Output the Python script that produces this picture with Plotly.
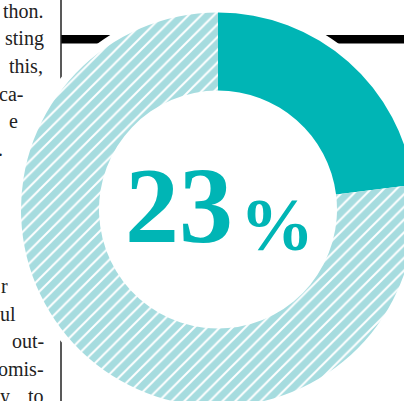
import plotly.graph_objects as go

# Share of the whole shown by the donut
labels = ["Share", "Rest"]
values = [23, 77]
headline_number = "23"
headline_unit = "%"

# Fragments of the neighbouring text column (line index, text, right edge in px)
column_lines = [0, 1, 2, 3, 4, 5, 10, 11, 12, 13, 14, 14]
column_texts = ["thon.", "sting", "this,", "ca-", "e", ".", "r", "ul", "out-", "omis-", "y", "to"]
column_right = [44, 44, 43, 23, 18, 3, 8, 16, 44, 44, 10, 44]

TEAL = "#00b5b5"
LIGHT = "#a6dcdf"
INK = "#222222"

W, H = 430, 420          # canvas a bit larger than the visible frame
CX, CY = 218, 209.5      # donut centre (px from top-left)
R_OUT, R_IN = 197, 119
R_HALO = 205


def px(x):
    return x / W


def py(y):
    return 1 - y / H


def disc_domain(r):
    return dict(x=[px(CX - r), px(CX + r)], y=[py(CY + r), py(CY - r)])


fig = go.Figure()

# white halo separating the donut from the rules behind it
fig.add_trace(go.Pie(
    values=[1], labels=["halo"], domain=disc_domain(R_HALO),
    marker=dict(colors=["white"], line=dict(width=0)),
    textinfo="none", hoverinfo="skip", showlegend=False, sort=False,
))

fig.add_trace(go.Pie(
    labels=labels, values=values, domain=disc_domain(R_OUT),
    hole=R_IN / R_OUT, sort=False, direction="clockwise", rotation=0,
    marker=dict(
        colors=[TEAL, LIGHT],
        line=dict(width=0),
        pattern=dict(shape=["", "/"], fgcolor=[TEAL, "white"], bgcolor=[TEAL, LIGHT],
                     size=9, solidity=0.22, fillmode="replace"),
    ),
    textinfo="none", hoverinfo="label+percent", showlegend=False,
))

shapes = [
    # heavy horizontal rule
    dict(type="rect", xref="paper", yref="paper", layer="below",
         x0=px(61), x1=px(W), y0=py(43.5), y1=py(35),
         fillcolor="black", line=dict(width=0)),
    # thin column rule
    dict(type="line", xref="paper", yref="paper", layer="below",
         x0=px(61), x1=px(61), y0=py(0), y1=py(H),
         line=dict(color=INK, width=1.5)),
]

FS = 20
annotations = []
for k, t, xr in zip(column_lines, column_texts, column_right):
    baseline = 18 + 27.5 * k
    annotations.append(dict(
        text=t, xref="paper", yref="paper", x=px(xr + 1), y=py(baseline - 0.3375 * FS),
        xanchor="right", yanchor="middle", showarrow=False, borderpad=0,
        font=dict(family="Liberation Serif", size=FS, color=INK),
    ))

annotations.append(dict(
    text=headline_number, xref="paper", yref="paper", x=px(124), y=py(242 - 0.3375 * 108),
    xanchor="left", yanchor="middle", showarrow=False, borderpad=0,
    font=dict(family="Liberation Serif", size=108, color=TEAL, weight="bold"),
))
annotations.append(dict(
    text=headline_unit, xref="paper", yref="paper", x=px(239), y=py(250 - 0.3375 * 74),
    xanchor="left", yanchor="middle", showarrow=False, borderpad=0,
    font=dict(family="Liberation Serif", size=74, color=TEAL, weight="bold"),
))

fig.update_layout(
    width=W, height=H,
    margin=dict(l=0, r=0, t=0, b=0),
    paper_bgcolor="white", plot_bgcolor="white",
    shapes=shapes, annotations=annotations,
    showlegend=False,
)

fig.write_html(
    "out.html",
    config={"displayModeBar": False},
    post_script="document.documentElement.style.overflow='hidden';document.body.style.overflow='hidden';document.body.style.margin='0';",
)
